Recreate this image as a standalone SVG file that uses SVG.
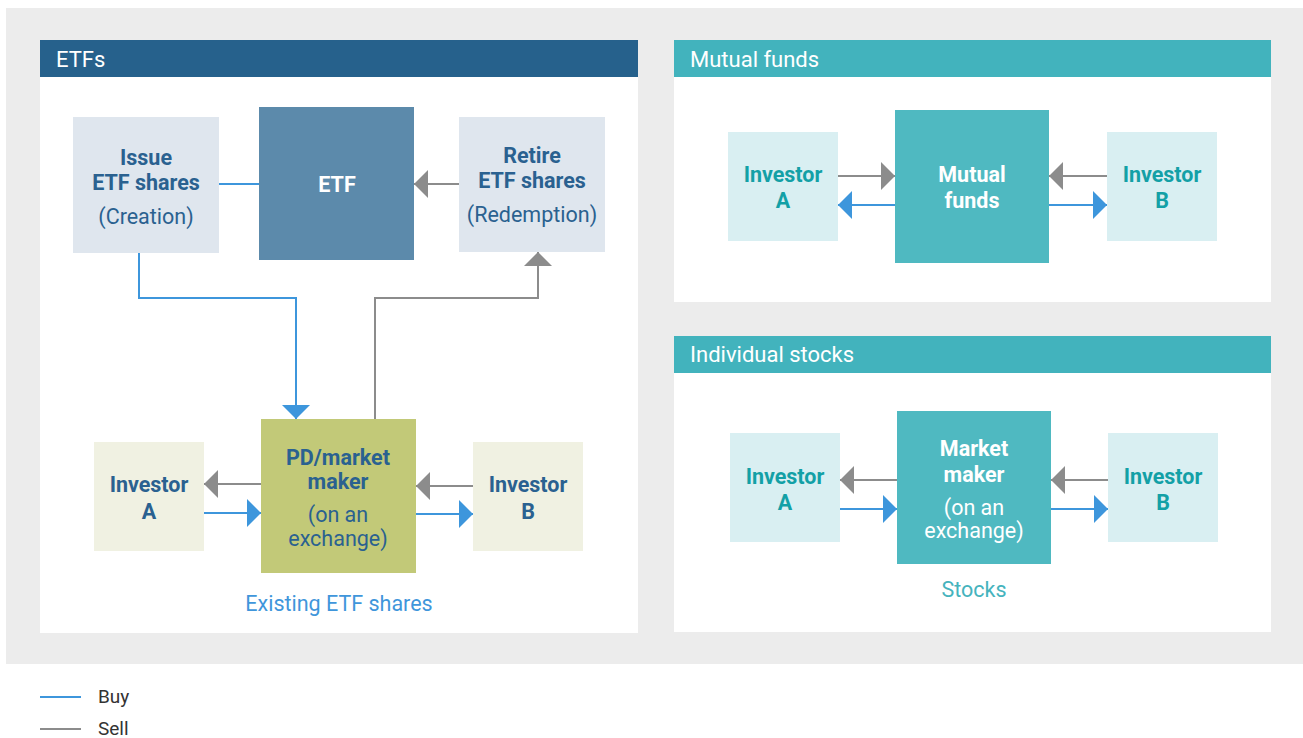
<svg xmlns="http://www.w3.org/2000/svg" width="1303" height="738" viewBox="0 0 1303 738">
<defs>
<style>
.bg{fill:#ececec}
.panel{fill:#ffffff}
.hdrE{fill:#26618c}
.hdrT{fill:#42b3bd}
.title{font-family:Roboto,"Liberation Sans",sans-serif;font-size:22px;fill:#ffffff}
.t{font-family:Roboto,"Liberation Sans",sans-serif;font-size:21.5px;text-anchor:middle}
.b{font-weight:bold}
.navy{fill:#2a6190}
.teal{fill:#13a0a6}
.white{fill:#ffffff}
.buy{stroke:#3d96dc;stroke-width:2;fill:none}
.sell{stroke:#8c8c8c;stroke-width:2;fill:none}
.leg{font-family:Roboto,"Liberation Sans",sans-serif;font-size:19px;fill:#333333}
</style>
<marker id="ab" markerUnits="userSpaceOnUse" markerWidth="14" markerHeight="28" refX="14" refY="14" orient="auto"><path d="M0,0 L14,14 L0,28 z" fill="#3d96dc"/></marker>
<marker id="ag" markerUnits="userSpaceOnUse" markerWidth="14" markerHeight="28" refX="14" refY="14" orient="auto"><path d="M0,0 L14,14 L0,28 z" fill="#8c8c8c"/></marker>
</defs>
<rect class="bg" x="6" y="8" width="1297" height="656"/>
<g id="panel-etfs">
<rect class="panel" x="40" y="40" width="598" height="593"/>
<rect class="hdrE" x="40" y="40" width="598" height="37"/>
<text class="title" x="56" y="67">ETFs</text>
</g>
<g id="panel-mutual">
<rect class="panel" x="674" y="40" width="597" height="262"/>
<rect class="hdrT" x="674" y="40" width="597" height="37"/>
<text class="title" x="690" y="67">Mutual funds</text>
</g>
<g id="panel-stocks">
<rect class="panel" x="674" y="336" width="597" height="296"/>
<rect class="hdrT" x="674" y="336" width="597" height="37"/>
<text class="title" x="690" y="362">Individual stocks</text>
</g>
<g id="connectors">
<line class="buy" x1="219" y1="184" x2="259" y2="184"/>
<line class="sell" x1="459" y1="184" x2="414" y2="184" marker-end="url(#ag)"/>
<polyline class="buy" points="139,253 139,298 296,298 296,419" marker-end="url(#ab)"/>
<polyline class="sell" points="375,419 375,298 538,298 538,252" marker-end="url(#ag)"/>
<line class="sell" x1="261" y1="484" x2="204" y2="484" marker-end="url(#ag)"/>
<line class="buy" x1="204" y1="513" x2="261" y2="513" marker-end="url(#ab)"/>
<line class="sell" x1="473" y1="486" x2="416" y2="486" marker-end="url(#ag)"/>
<line class="buy" x1="416" y1="514" x2="473" y2="514" marker-end="url(#ab)"/>
<line class="sell" x1="838" y1="176" x2="895" y2="176" marker-end="url(#ag)"/>
<line class="buy" x1="895" y1="205" x2="838" y2="205" marker-end="url(#ab)"/>
<line class="sell" x1="1107" y1="176" x2="1049" y2="176" marker-end="url(#ag)"/>
<line class="buy" x1="1049" y1="205" x2="1107" y2="205" marker-end="url(#ab)"/>
<line class="sell" x1="897" y1="480" x2="840" y2="480" marker-end="url(#ag)"/>
<line class="buy" x1="840" y1="509" x2="897" y2="509" marker-end="url(#ab)"/>
<line class="sell" x1="1108" y1="480" x2="1051" y2="480" marker-end="url(#ag)"/>
<line class="buy" x1="1051" y1="509" x2="1108" y2="509" marker-end="url(#ab)"/>
</g>
<g id="issue">
<rect x="73" y="117" width="146" height="136" fill="#dfe6ee"/>
<text class="t b navy" x="146" y="165">Issue</text>
<text class="t b navy" x="146" y="190">ETF shares</text>
<text class="t navy" x="146" y="224">(Creation)</text>
</g>
<g id="etf">
<rect x="259" y="107" width="155" height="153" fill="#5c8aab"/>
<text class="t b white" x="337" y="192">ETF</text>
</g>
<g id="retire">
<rect x="459" y="117" width="146" height="135" fill="#dfe6ee"/>
<text class="t b navy" x="532" y="163">Retire</text>
<text class="t b navy" x="532" y="188">ETF shares</text>
<text class="t navy" x="532" y="222">(Redemption)</text>
</g>
<g id="pd">
<rect x="261" y="419" width="155" height="154" fill="#c2c978"/>
<text class="t b navy" x="338" y="465">PD/market</text>
<text class="t b navy" x="338" y="489">maker</text>
<text class="t navy" x="338" y="522">(on an</text>
<text class="t navy" x="338" y="546">exchange)</text>
<text class="t" x="339" y="611" fill="#3f96db">Existing ETF shares</text>
</g>
<g id="etf-investor-a">
<rect x="94" y="442" width="110" height="109" fill="#f0f1e2"/>
<text class="t b navy" x="149" y="492">Investor</text>
<text class="t b navy" x="149" y="519">A</text>
</g>
<g id="etf-investor-b">
<rect x="473" y="442" width="110" height="109" fill="#f0f1e2"/>
<text class="t b navy" x="528" y="492">Investor</text>
<text class="t b navy" x="528" y="519">B</text>
</g>
<g id="mf-investor-a">
<rect x="728" y="132" width="110" height="109" fill="#d9eff2"/>
<text class="t b teal" x="783" y="182">Investor</text>
<text class="t b teal" x="783" y="208">A</text>
</g>
<g id="mutual-funds">
<rect x="895" y="110" width="154" height="153" fill="#4fb9c1"/>
<text class="t b white" x="972" y="182">Mutual</text>
<text class="t b white" x="972" y="208">funds</text>
</g>
<g id="mf-investor-b">
<rect x="1107" y="132" width="110" height="109" fill="#d9eff2"/>
<text class="t b teal" x="1162" y="182">Investor</text>
<text class="t b teal" x="1162" y="208">B</text>
</g>
<g id="st-investor-a">
<rect x="730" y="433" width="110" height="109" fill="#d9eff2"/>
<text class="t b teal" x="785" y="484">Investor</text>
<text class="t b teal" x="785" y="510">A</text>
</g>
<g id="market-maker">
<rect x="897" y="411" width="154" height="153" fill="#4fb9c1"/>
<text class="t b white" x="974" y="456">Market</text>
<text class="t b white" x="974" y="482">maker</text>
<text class="t white" x="974" y="515">(on an</text>
<text class="t white" x="974" y="538">exchange)</text>
<text class="t" x="974" y="597" fill="#45b3bd">Stocks</text>
</g>
<g id="st-investor-b">
<rect x="1108" y="433" width="110" height="109" fill="#d9eff2"/>
<text class="t b teal" x="1163" y="484">Investor</text>
<text class="t b teal" x="1163" y="510">B</text>
</g>
<g id="legend">
<line class="buy" x1="40" y1="697" x2="81" y2="697"/>
<text class="leg" x="98" y="703">Buy</text>
<line class="sell" x1="40" y1="729" x2="81" y2="729"/>
<text class="leg" x="98" y="735">Sell</text>
</g>
</svg>
